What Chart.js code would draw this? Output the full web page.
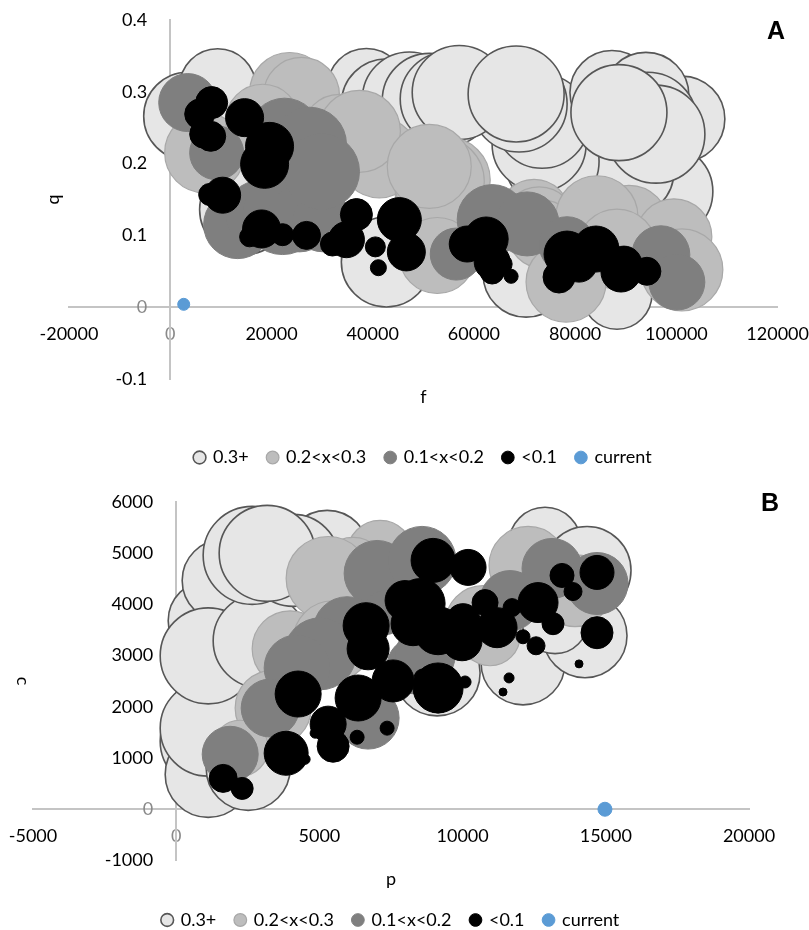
<!DOCTYPE html>
<html>
<head>
<meta charset="utf-8">
<script src="https://cdn.jsdelivr.net/npm/chart.js@4"></script>
<style>
html,body{margin:0;padding:0;background:#fff;width:809px;height:930px;overflow:hidden}
canvas{position:absolute;left:0;filter:blur(0.5px)}
#ca{top:0}
#cb{top:470px}
.tag{position:absolute;font:bold 25px "Liberation Sans",Arial,sans-serif;color:#000}
</style>
</head>
<body>
<canvas id="ca" width="809" height="470"></canvas>
<canvas id="cb" width="809" height="460"></canvas>
<div class="tag" style="left:767px;top:16px">A</div>
<div class="tag" style="left:761px;top:488px">B</div>
<script>
const seriesNames = ['0.3+', '0.2<x<0.3', '0.1<x<0.2', '<0.1', 'current'];

// Panel A: f (x), b (y), bubble size
const aClearF = [42690,14690,70300,88250,97910,101070,90610,75430,72870,73460,68920,38750,42690,47230,51170,54720,57090,68330,3450,9370,87260,93960,94360,95940,88640];
const aClearB = [.063,.136,.046,.018,.161,.262,.189,.203,.227,.259,.283,.306,.283,.290,.288,.290,.299,.297,.266,.307,.299,.295,.259,.241,.271];
const aClearR = [45,45,43,35,47,43,45,47,47,47,48,39,45,47,47,47,47,48,44,38,42,43,49,49,48];

const aMidF = [6800,23570,25930,18240,33430,41310,37370,52750,54720,53150,51170,52750,71880,72870,73460,90610,84300,99490,88250,101070,78190];
const aMidB = [.215,.299,.295,.259,.245,.208,.245,.157,.177,.175,.196,.072,.128,.116,.102,.114,.126,.098,.081,.052,.035];
const aMidR = [40,40,38,37,37,40,41,42,43,45,42,38,36,37,34,40,41,38,40,41,40];

const aDarkF = [3450,9170,13310,17650,24160,22190,25540,30070,22580,27510,29880,63600,70500,56500,78390,96920,100080];
const aDarkB = [.285,.215,.115,.129,.171,.129,.123,.119,.241,.227,.189,.122,.116,.074,.087,.073,.035];
const aDarkR = [29,27,34,34,40,40,33,30,36,37,38,35,32,26,28,29,28];

const aBlackF = [8180,5820,6610,7990,14690,19620,18640,10350,7790,18040,15680,22190,26920,36780,34810,32050,40520,41120,45260,46640,58670,62410,63600,63600,65570,67340,78390,76810,84100,89040,89630,94160,80750];
const aBlackB = [.285,.269,.241,.238,.264,.224,.199,.156,.157,.109,.098,.101,.100,.129,.094,.088,.084,.055,.122,.077,.088,.095,.063,.049,.060,.043,.074,.042,.081,.049,.060,.050,.060];
const aBlackR = [16,15,14,15,19,24,24,18,11,19,10,11,14,16,18,12,10,8,22,19,18,22,18,12,10,7,23,16,23,20,18,14,18];

const aCurrentF = [2660];
const aCurrentB = [.004];
const aCurrentR = [6];

// Panel B: p (x), c (y), bubble size
const bClearP = [1082,1117,1291,1117,1117,2513,1640,1117,2932,5270,4083,2652,3176,12110,9109,12878,14274,13227,14344];
const bClearC = [1327,680,1621,1582,3679,798,4463,2993,3287,5012,4855,4953,4992,2856,2660,5188,3385,3679,4659];
const bClearR = [47,43,48,48,40,42,41,48,47,42,46,49,48,42,43,36,42,33,44];

const bMidP = [7120,6177,5305,3979,5479,3385,2234,12285,13925,10714,10959];
const bMidC = [4992,4659,4502,3130,3287,1974,1190,4757,4267,3620,3385];
const bMidR = [33,33,42,38,40,38,28,39,36,38,30];

const bDarkP = [7015,8585,5968,5026,4223,3281,1885,6701,8341,8690,7294,13122,14693,11657];
const bDarkC = [4600,4855,3483,3032,2758,1974,1072,1778,2797,2993,3836,4698,4404,4071];
const bDarkR = [33,34,34,36,33,29,28,31,28,30,22,30,31,30];

const bBlackP = [8969,10191,7992,8516,8271,9144,9981,10016,10784,11203,11726,12634,13157,12110,12564,13471,13855,14693,14693,14065,11622,11412,9144,8620,9144,10086,6631,6701,6352,7573,4258,3839,4502,5305,5479,4851,6317,7364,1640,2303];
const bBlackC = [4855,4718,4071,4012,3620,3483,3287,3679,4032,3542,3934,4032,3620,3365,3189,4561,4247,4620,3444,2836,2562,2287,2366,2562,2170,2483,3581,3130,2170,2503,2248,1092,974,1660,1229,1484,1405,1582,602,406];
const bBlackR = [22,18,20,25,22,24,20,17,13,20,9,20,11,7,9,12,9,17,16,4,5,4,25,9,15,6,23,21,23,21,23,22,5,18,16,5,7,7,14,11];

const bCurrentP = [14970];
const bCurrentC = [0];
const bCurrentR = [7];

// Panel scales and labels
const aXTitle = 'f', aYTitle = 'b', bXTitle = 'p', bYTitle = 'c';
const aXTicks = [-20000, 120000, 20000];
const aYTicks = [-0.1, 0.4, 0.1];
const bXTicks = [-5000, 20000, 5000];
const bYTicks = [-1000, 6000, 1000];

const styles = [
  {backgroundColor:'#e6e6e6', borderColor:'#565656', borderWidth:1.6, order:4},
  {backgroundColor:'#bdbdbd', borderColor:'#a8a8a8', borderWidth:1.2, order:3},
  {backgroundColor:'#7f7f7f', borderColor:'#7f7f7f', borderWidth:1, order:2},
  {backgroundColor:'#000000', borderColor:'#000000', borderWidth:1, order:1},
  {backgroundColor:'#5b9bd5', borderColor:'#5b9bd5', borderWidth:1, order:0}
];

function points(xs, ys, rs){ return xs.map((x,i)=>({x:x, y:ys[i], r:rs[i]})); }
const font = {family:'Lato', size:18};
const axisColor = '#c4c4c4';

function axis(ticks, crossing, title, titlePad, format){
  return {
    type:'linear', position:crossing,
    min:ticks[0], max:ticks[1],
    grid:{display:false, drawTicks:false},
    border:{display:true, color:axisColor, width:2},
    title:{display:true, text:title, color:'#000', font:font, padding:{top:titlePad,bottom:0}},
    ticks:{stepSize:ticks[2], padding:0, color:c=>c.tick.value===0?'#8a8a8a':'#000',
      font:{family:'Lato', size:18, lineHeight:1},
      autoSkip:false, maxRotation:0, callback:format}
  };
}
const clean = v => String(Number(v.toFixed(1)));
const xLabel = v => ['', clean(v)];
const yLabel = v => clean(v) + '\u00a0\u00a0\u00a0\u00a0\u00a0';

function panel(id, groups, xTicks, yTicks, xTitle, yTitle, pad, xPad, yPad, legendTitlePad){
  new Chart(document.getElementById(id), {
    type:'bubble',
    data:{datasets:groups.map((g,i)=>Object.assign({label:seriesNames[i], data:points(g[0],g[1],g[2]), clip:false}, styles[i]))},
    options:{
      responsive:false, animation:false,
      layout:{autoPadding:false, padding:pad},
      scales:{
        x:axis(xTicks, {y:0}, xTitle, xPad, xLabel),
        y:axis(yTicks, {x:0}, yTitle, yPad, yLabel)
      },
      plugins:{
        tooltip:{enabled:false},
        legend:{
          position:'bottom', fullSize:false,
          title:{display:true, text:' ', font:{size:10}, padding:{top:legendTitlePad,bottom:0}},
          labels:{usePointStyle:true, boxWidth:9, boxHeight:9, padding:19.5, color:'#000',
            font:{family:'Lato', size:18}, sort:(a,b)=>a.datasetIndex-b.datasetIndex}
        }
      }
    }
  });
}

panel('ca', [
  [aClearF,aClearB,aClearR],[aMidF,aMidB,aMidR],[aDarkF,aDarkB,aDarkR],[aBlackF,aBlackB,aBlackR],[aCurrentF,aCurrentB,aCurrentR]
], aXTicks, aYTicks, aXTitle, aYTitle, {left:69,right:30,top:20,bottom:-6.5}, 43, 48.5, 38);

panel('cb', [
  [bClearP,bClearC,bClearR],[bMidP,bMidC,bMidR],[bDarkP,bDarkC,bDarkR],[bBlackP,bBlackC,bBlackR],[bCurrentP,bCurrentC,bCurrentR]
], bXTicks, bYTicks, bXTitle, bYTitle, {left:33,right:60,top:31.7,bottom:-9}, 23, 71, 19);
</script>
</body>
</html>
